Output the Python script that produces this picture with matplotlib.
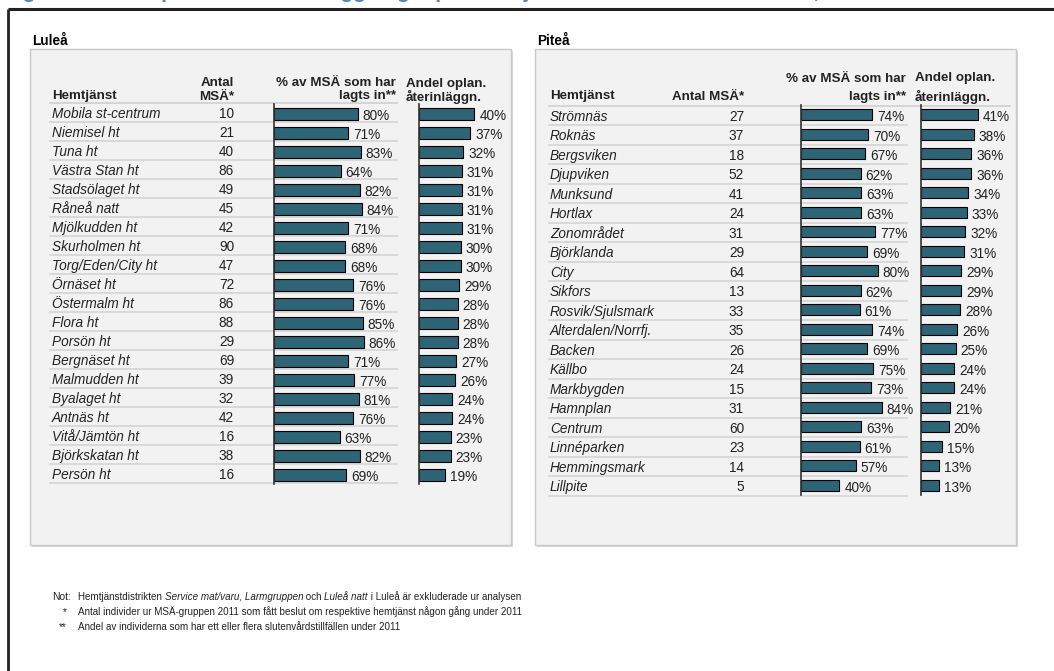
import matplotlib
matplotlib.use('Agg')
import matplotlib.pyplot as plt
from matplotlib.patches import Rectangle

# Luleå hemtjänst
lulea_namn = ["Mobila st-centrum", "Niemisel ht", "Tuna ht", "Västra Stan ht", "Stadsölaget ht",
              "Råneå natt", "Mjölkudden ht", "Skurholmen ht", "Torg/Eden/City ht", "Örnäset ht",
              "Östermalm ht", "Flora ht", "Porsön ht", "Bergnäset ht", "Malmudden ht",
              "Byalaget ht", "Antnäs ht", "Vitå/Jämtön ht", "Björkskatan ht", "Persön ht"]
lulea_antal = [10, 21, 40, 86, 49, 45, 42, 90, 47, 72, 86, 88, 29, 69, 39, 32, 42, 16, 38, 16]
lulea_inlagda = [80, 71, 83, 64, 82, 84, 71, 68, 68, 76, 76, 85, 86, 71, 77, 81, 76, 63, 82, 69]
lulea_ater = [40, 37, 32, 31, 31, 31, 31, 30, 30, 29, 28, 28, 28, 27, 26, 24, 24, 23, 23, 19]

# Piteå hemtjänst
pitea_namn = ["Strömnäs", "Roknäs", "Bergsviken", "Djupviken", "Munksund", "Hortlax",
              "Zonområdet", "Björklanda", "City", "Sikfors", "Rosvik/Sjulsmark",
              "Alterdalen/Norrfj.", "Backen", "Källbo", "Markbygden", "Hamnplan", "Centrum",
              "Linnéparken", "Hemmingsmark", "Lillpite"]
pitea_antal = [27, 37, 18, 52, 41, 24, 31, 29, 64, 13, 33, 35, 26, 24, 15, 31, 60, 23, 14, 5]
pitea_inlagda = [74, 70, 67, 62, 63, 63, 77, 69, 80, 62, 61, 74, 69, 75, 73, 84, 63, 61, 57, 40]
pitea_ater = [41, 38, 36, 36, 34, 33, 32, 31, 29, 29, 28, 26, 25, 24, 24, 21, 20, 15, 13, 13]

plt.rcParams['font.family'] = ['Liberation Sans', 'DejaVu Sans']

W, H = 1054, 671
BAR = '#2e6576'
TXT = '#222222'
FS = 9.8
HFS = 9.6

fig = plt.figure(figsize=(W / 100, H / 100), dpi=100)
fig.patch.set_facecolor('white')

# bakgrundsaxel i pixelkoordinater för ramar, rubriker och tabelltext
bg = fig.add_axes([0, 0, 1, 1])
bg.set_xlim(0, W)
bg.set_ylim(H, 0)
bg.axis('off')


def px_axes(x0, y0, x1, y1):
    return fig.add_axes([x0 / W, 1 - y1 / H, (x1 - x0) / W, (y1 - y0) / H])


def stapelkolumn(x0, x1, top, row_h, values, ppp, off=0.0):
    n = len(values)
    ax = px_axes(x0, top + off, x1, top + off + n * row_h)
    ax.patch.set_visible(False)
    ax.barh(range(n), values, height=0.58, color=BAR, edgecolor='black', linewidth=0.8)
    ax.set_xlim(0, (x1 - x0) / ppp)
    ax.set_ylim(n - 0.5, -0.5)
    for i, v in enumerate(values):
        ax.text(v + 5 / ppp, i + 2.5 / row_h, f"{v}%", va='center', ha='left',
                fontsize=FS, color=TXT, clip_on=False)
    for s in ['top', 'right', 'bottom']:
        ax.spines[s].set_visible(False)
    ax.spines['left'].set_color('#333333')
    ax.spines['left'].set_linewidth(1.2)
    ax.set_xticks([])
    ax.set_yticks([])
    return ax


# yttre ram och rubrik (går över kanten upptill)
bg.plot([8, W], [9, 9], color='#222222', lw=2.2, solid_capstyle='butt')
bg.plot([8, 8], [9, H], color='#222222', lw=2.0, solid_capstyle='butt')
bg.text(4, -2.5, "Figur 9. Andel oplanerade återinläggningar per hemtjänstdistrikt i Luleå och Piteå, 2011",
        fontsize=15, fontweight='bold', color='#4a86c8', va='baseline', ha='left')

panels = [
    dict(titel="Luleå", box=(30, 49, 511, 545), namn=lulea_namn, antal=lulea_antal,
         inlagda=lulea_inlagda, ater=lulea_ater, name_x=52, antal_x=234,
         top=103, row_h=19, c1=(273.5, 397, 1.05), c2=(419, 505, 1.385), off=1.5,
         line_x=(50, 397), head_line_x=(50, 397), antal_tva_rader=True,
         head_y=(83.5, 96.5), andel_x=406),
    dict(titel="Piteå", box=(535, 49, 1016, 545), namn=pitea_namn, antal=pitea_antal,
         inlagda=pitea_inlagda, ater=pitea_ater, name_x=550, antal_x=744,
         top=105.5, row_h=19.5, c1=(801, 907, 0.96), c2=(921, 1010, 1.39), off=-0.5,
         line_x=(549, 907), head_line_x=(549, 1010), antal_tva_rader=False,
         head_y=(78.5, 97), andel_x=915),
]

for p in panels:
    x0, y0, x1, y1 = p['box']
    bg.add_patch(Rectangle((x0 + 1.5, y0 + 1.5), x1 - x0, y1 - y0, facecolor='#d9d9d9',
                           edgecolor='none', zorder=1))
    bg.add_patch(Rectangle((x0, y0), x1 - x0, y1 - y0, facecolor='#f2f2f2',
                           edgecolor='#c8c8c8', linewidth=1.0, zorder=2))
    bg.text(x0 + 2, 41, p['titel'], fontsize=FS, fontweight='bold', color='black',
            va='center', ha='left', zorder=5)

    ya, yb = p['head_y']
    c1x, c1r, _ = p['c1']
    c2x = p['c2'][0]
    bg.text(p['name_x'], 96.5, "Hemtjänst", fontsize=HFS, fontweight='bold', color=TXT,
            va='center', ha='left', zorder=5)
    if p['antal_tva_rader']:
        bg.text(p['antal_x'], ya, "Antal", fontsize=HFS, fontweight='bold', color=TXT,
                va='center', ha='right', zorder=5)
        bg.text(p['antal_x'], yb, "MSÄ*", fontsize=HFS, fontweight='bold', color=TXT,
                va='center', ha='right', zorder=5)
    else:
        bg.text(p['antal_x'], yb, "Antal MSÄ*", fontsize=HFS, fontweight='bold', color=TXT,
                va='center', ha='right', zorder=5)
    rx = c1r - 1
    bg.text(rx, ya, "% av MSÄ som har", fontsize=HFS, fontweight='bold', color=TXT,
            va='center', ha='right', zorder=5)
    bg.text(rx, yb, "lagts in**", fontsize=HFS, fontweight='bold', color=TXT,
            va='center', ha='right', zorder=5)
    bg.text(p['andel_x'], ya, "Andel oplan.", fontsize=HFS, fontweight='bold', color=TXT,
            va='center', ha='left', zorder=5)
    bg.text(p['andel_x'], yb, "återinläggn.", fontsize=HFS, fontweight='bold', color=TXT,
            va='center', ha='left', zorder=5)

    top, rh = p['top'], p['row_h']
    lx0, lx1 = p['line_x']
    hx0, hx1 = p['head_line_x']
    bg.plot([hx0, hx1], [top, top], color='#d0d0d0', lw=1.2, zorder=3)
    for k in range(1, len(p['namn']) + 1):
        yy = top + k * rh
        bg.plot([lx0, lx1], [yy, yy], color='#d4d4d4', lw=1.2, zorder=3)

    for i, (namn, antal) in enumerate(zip(p['namn'], p['antal'])):
        yc = top + (i + 0.5) * rh + 1.5
        bg.text(p['name_x'], yc, namn, fontsize=FS, style='italic', color=TXT,
                va='center', ha='left', zorder=5)
        bg.text(p['antal_x'], yc, str(antal), fontsize=FS, color=TXT,
                va='center', ha='right', zorder=5)

    stapelkolumn(c1x, c1r, top, rh, p['inlagda'], p['c1'][2], p['off'])
    stapelkolumn(c2x, p['c2'][1], top, rh, p['ater'], p['c2'][2], p['off'])

# fotnoter
NOT_FONT = ['Liberation Sans Narrow', 'Liberation Sans', 'DejaVu Sans']
NFS = 7.1
renderer = fig.canvas.get_renderer()


def rad(x, y, delar):
    for txt, stil in delar:
        t = bg.text(x, y, txt, fontsize=NFS, style=stil, family=NOT_FONT, color=TXT,
                    va='center', ha='left')
        x += t.get_window_extent(renderer).width


bg.text(52, 597, "Not:", fontsize=NFS + 0.3, family=NOT_FONT, color=TXT, va='center', ha='left')
rad(78, 597, [("Hemtjänstdistrikten ", 'normal'), ("Service mat/varu, Larmgruppen", 'italic'),
              (" och ", 'normal'), ("Luleå natt", 'italic'),
              (" i Luleå är exkluderade ur analysen", 'normal')])
bg.text(67, 612, "*", fontsize=NFS, family=NOT_FONT, color=TXT, va='center', ha='right')
rad(78, 612, [("Antal individer ur MSÄ-gruppen 2011 som fått beslut om respektive hemtjänst någon gång under 2011", 'normal')])
bg.text(67, 627, "**", fontsize=NFS, family=NOT_FONT, color=TXT, va='center', ha='right')
rad(78, 627, [("Andel av individerna som har ett eller flera slutenvårdstillfällen under 2011", 'normal')])

fig.savefig('out.png', dpi=100, facecolor='white')
